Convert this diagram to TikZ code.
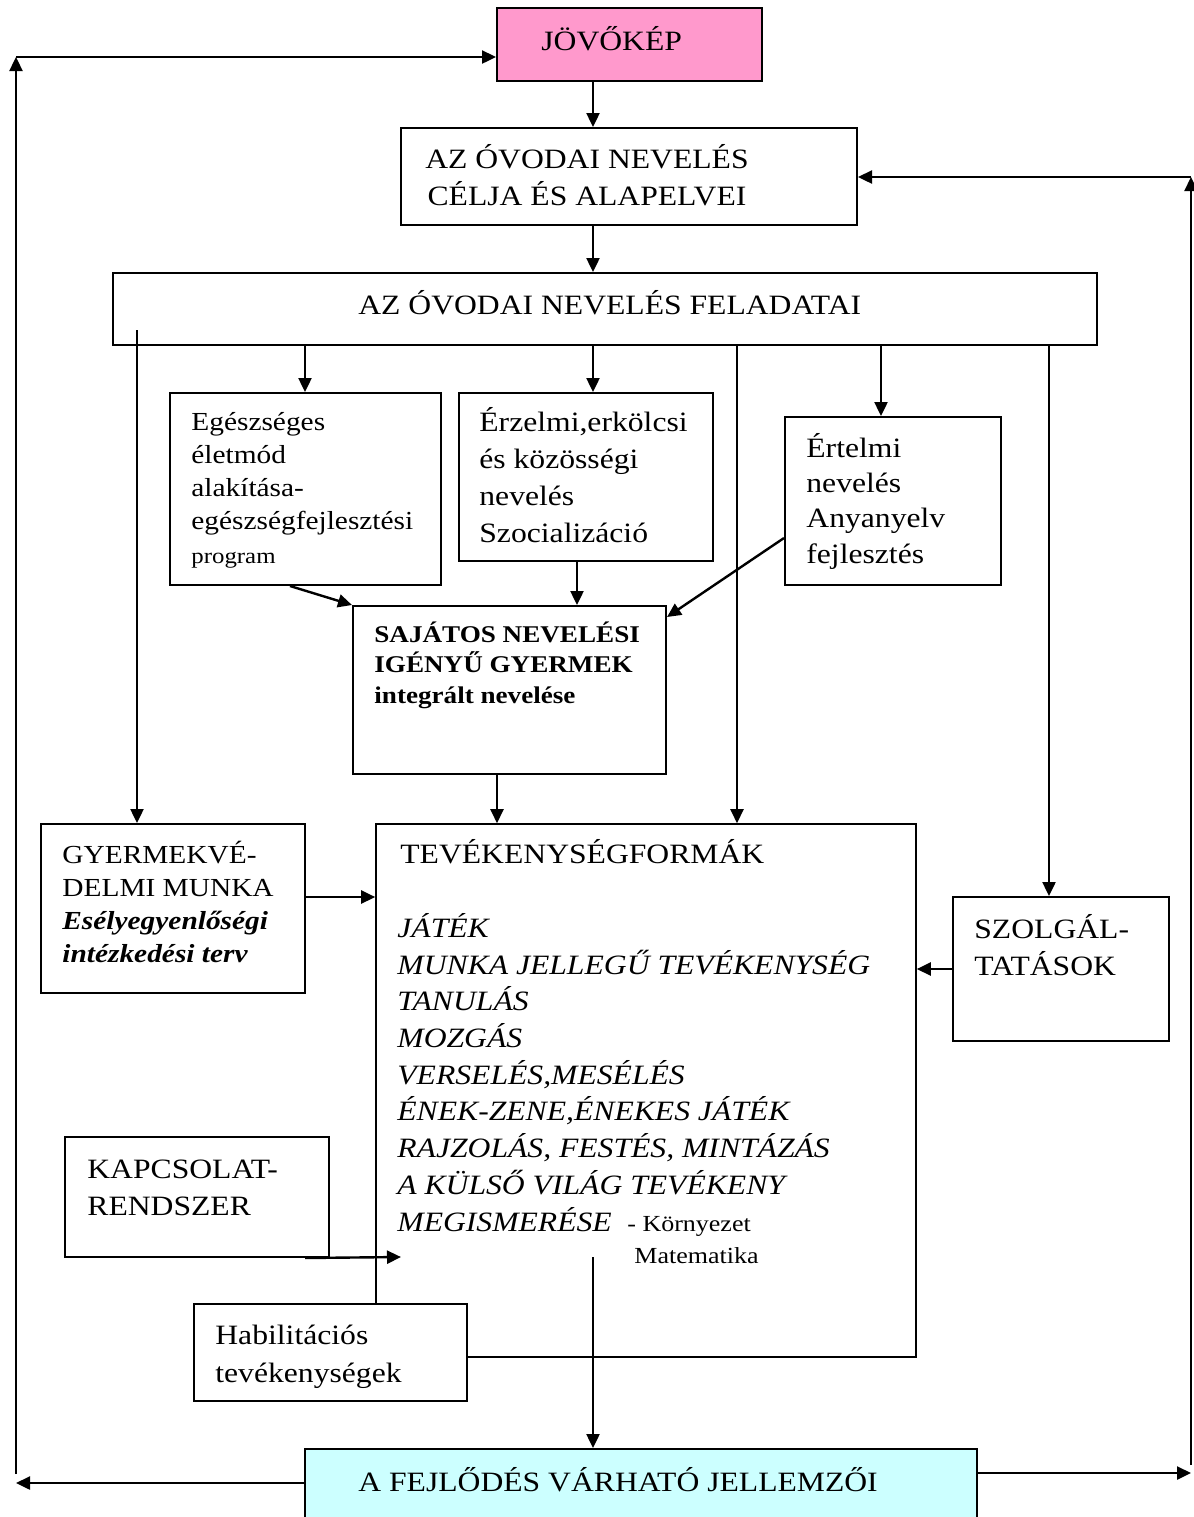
\documentclass[tikz,border=0pt]{standalone}
\usepackage{fontspec}
\setmainfont{Liberation Serif}[FakeStretch=1.13]
\usetikzlibrary{arrows.meta,fit}
\definecolor{rozsaszin}{HTML}{FF99CC}
\definecolor{vilagoskek}{HTML}{CCFFFF}

\begin{document}
\begin{tikzpicture}[x=0.5pt,y=-0.5pt,
  doboz/.style={draw,line width=1pt,inner sep=0pt},
  szoveg/.style={anchor=base west,inner sep=0pt,align=left,font=\fontsize{14}{18.35}\selectfont},
  nyil/.style={line width=1.2pt,-{Triangle[length=7pt,width=6.5pt]}}]

\useasboundingbox (0,0) rectangle (1194,1517);

% a szovegek az utolso soruk alapvonalanal allnak
\node[doboz,fill=rozsaszin,fit={(497,8) (762,81)}] (jovo) {};
\node[szoveg] (jovo-t) at (541,50) {JÖVŐKÉP};

\node[doboz,fit={(401,128) (857,225)}] (celja) {};
\node[szoveg,anchor=base,align=center,font=\fontsize{14}{18.5}\selectfont] (celja-t) at (587,205) {AZ ÓVODAI NEVELÉS\\CÉLJA ÉS ALAPELVEI};

\node[doboz,fit={(113,273) (1097,345)}] (feladat) {};
\node[szoveg] (feladat-t) at (358,314) {AZ ÓVODAI NEVELÉS FELADATAI};

\node[doboz,fit={(170,393) (441,585)}] (egesz) {};
\node[szoveg,font=\fontsize{13}{16.6}\selectfont] (egesz-t) at (191,563) {Egészséges\\életmód\\alakítása-\\egészségfejlesztési\\{\fontsize{11}{13}\selectfont program}};

\node[doboz,fit={(459,393) (713,561)}] (erzelmi) {};
\node[szoveg] (erzelmi-t) at (479,542) {Érzelmi,erkölcsi\\és közösségi\\nevelés\\Szocializáció};

\node[doboz,fit={(785,417) (1001,585)}] (ertelmi) {};
\node[szoveg,font=\fontsize{14}{17.65}\selectfont] (ertelmi-t) at (806,563) {Értelmi\\nevelés\\Anyanyelv\\fejlesztés};

\node[doboz,fit={(353,606) (666,774)}] (sajatos) {};
\node[szoveg,font=\fontsize{12}{15.25}\selectfont\bfseries] (sajatos-t) at (374,703) {SAJÁTOS NEVELÉSI\\IGÉNYŰ GYERMEK\\integrált nevelése};

\node[doboz,fit={(41,824) (305,993)}] (gyerm) {};
\node[szoveg,font=\fontsize{13}{16.5}\selectfont] (gyerm-t) at (62,962) {GYERMEKVÉ-\\DELMI MUNKA\\\textbf{\textit{Esélyegyenlőségi}}\\\textbf{\textit{intézkedési terv}}};

\node[doboz,line width=0.8pt,fit={(376,824) (916,1357)}] (tevek) {};
\node[szoveg] (tevek-t) at (400,863) {TEVÉKENYSÉGFORMÁK};
\node[szoveg,font=\fontsize{14}{18.35}\selectfont\itshape] (tevek-lista) at (397,1231) {JÁTÉK\\MUNKA JELLEGŰ TEVÉKENYSÉG\\TANULÁS\\MOZGÁS\\VERSELÉS,MESÉLÉS\\ÉNEK-ZENE,ÉNEKES JÁTÉK\\RAJZOLÁS, FESTÉS, MINTÁZÁS\\A KÜLSŐ VILÁG TEVÉKENY\\MEGISMERÉSE};
\node[szoveg,font=\fontsize{11.5}{16}\selectfont] (kornyezet) at (627,1263) {- Környezet\\\hspace*{3.5pt}Matematika};

\node[doboz,fit={(953,897) (1169,1041)}] (szolg) {};
\node[szoveg] (szolg-t) at (974,975) {SZOLGÁL-\\TATÁSOK};

\node[doboz,fit={(65,1137) (329,1257)}] (kapcs) {};
\node[szoveg,font=\fontsize{14}{18.5}\selectfont] (kapcs-t) at (87,1215) {KAPCSOLAT-\\RENDSZER};

\node[doboz,fill=white,fit={(194,1304) (467,1401)}] (habil) {};
\node[szoveg,font=\fontsize{14}{19}\selectfont] (habil-t) at (215,1382) {Habilitációs\\tevékenységek};

\node[doboz,fill=vilagoskek,fit={(305,1449) (977,1540)}] (fejl) {};
\node[szoveg] (fejl-t) at (358,1491) {A FEJLŐDÉS VÁRHATÓ JELLEMZŐI};

\coordinate (gyerm-kezd) at (137,330);
\coordinate (kapcs-veg) at (401,1257);
\coordinate (fejl-kezd) at (593,1257);
\coordinate (bal-lent) at (16,1483);
\coordinate (bal-also) at (16,1474);
\coordinate (bal-fent) at (16,57);
\coordinate (jobb-lent) at (1191,1473);
\coordinate (jobb-also) at (1191,1465);
\coordinate (jobb-fent) at (1191,177);

\draw[nyil] (jovo.south -| 593,0) -- (celja.north -| 593,0);
\draw[nyil] (celja.south -| 593,0) -- (feladat.north -| 593,0);
\draw[nyil] (feladat.south -| 305,0) -- (egesz.north -| 305,0);
\draw[nyil] (feladat.south -| 593,0) -- (erzelmi.north -| 593,0);
\draw[nyil] (feladat.south -| 881,0) -- (ertelmi.north -| 881,0);
\draw[nyil] (gyerm-kezd) -- (gyerm.north -| gyerm-kezd);
\draw[nyil] (feladat.south -| 737,0) -- (tevek.north -| 737,0);
\draw[nyil] (feladat.south -| 1049,0) -- (szolg.north -| 1049,0);
\draw[nyil] (egesz.south -| 290,0) -- (sajatos.north west);
\draw[nyil] (erzelmi.south -| 577,0) -- (sajatos.north -| 577,0);
\draw[nyil] (ertelmi.west |- 0,538) -- (sajatos.east |- 0,617);
\draw[nyil] (sajatos.south -| 497,0) -- (tevek.north -| 497,0);
\draw[nyil] (gyerm.east |- 0,897) -- (tevek.west |- 0,897);
\draw[nyil] (szolg.west |- 0,969) -- (tevek.east |- 0,969);
\draw[nyil] (kapcs.south -| 305,0) -- (kapcs-veg);
\draw[nyil] (fejl-kezd) -- (fejl.north -| fejl-kezd);
\draw[nyil] (fejl.west |- bal-lent) -- (bal-lent);
\draw[nyil] (bal-also) -- (bal-fent);
\draw[nyil] (bal-fent) -- (jovo.west |- bal-fent);
\draw[nyil] (fejl.east |- jobb-lent) -- (jobb-lent);
\draw[nyil] (jobb-also) -- (jobb-fent);
\draw[nyil] (jobb-fent) -- (celja.east |- jobb-fent);
\end{tikzpicture}
\end{document}
